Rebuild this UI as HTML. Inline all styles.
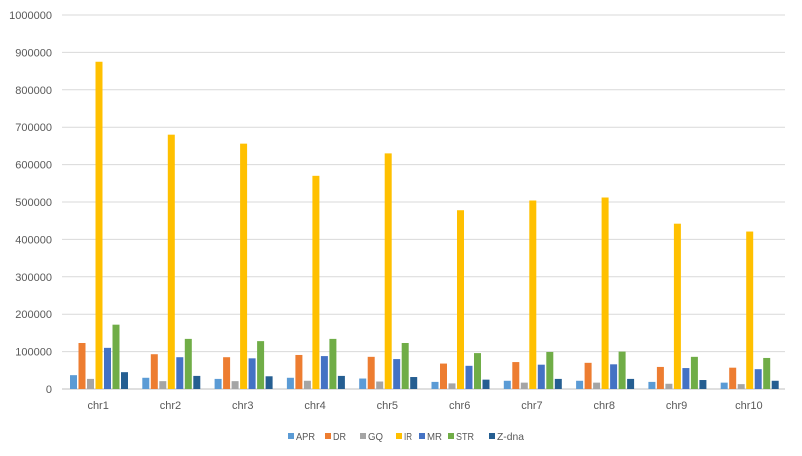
<!DOCTYPE html>
<html><head><meta charset="utf-8"><style>body{margin:0;background:#fff}svg{display:block}text{font-family:"Liberation Sans",sans-serif;fill:#595959}</style></head>
<body><svg id="s" width="802" height="456" xmlns="http://www.w3.org/2000/svg"></svg>
<script>
const s=document.getElementById('s');let h='';
const y0=389,k=37.4/100000,L=62,R=785;
for(let i=0;i<=10;i++){const y=y0-i*100000*k;h+=`<line x1="${L}" x2="${R}" y1="${y}" y2="${y}" stroke="${i?'#d9d9d9':'#bfbfbf'}" stroke-width="1"/>`;h+=`<text x="52" y="${y+4}" font-size="11" text-anchor="end">${i*100000}</text>`;}
const col=['#5B9BD5','#ED7D31','#A5A5A5','#FFC000','#4472C4','#70AD47','#255E91'];
const d=[[37,123,27,875,110,172,45],[30,93,21,680,85,134,35],[27,85,21,656,82,128,34],[30,91,22,570,88,134,35],[28,86,20,630,80,123,32],[19,68,15,478,62,96,25],[22,72,17,504,65,99,27],[22,70,17,512,66,100,27],[19,59,14,442,56,86,24],[17,57,13,421,53,83,22]];
const cw=(R-L)/10;
d.forEach((r,c)=>{const x0=L+c*cw+8;r.forEach((v,j)=>{const hh=v*1000*k;h+=`<rect x="${x0+j*8.5}" y="${y0-hh}" width="7" height="${hh}" fill="${col[j]}"/>`});h+=`<text x="${L+c*cw+cw/2}" y="409" font-size="11" text-anchor="middle">chr${c+1}</text>`;});
const lg=[['APR',288],['DR',325],['GQ',360],['IR',396],['MR',419],['STR',448],['Z-dna',489]];
lg.forEach((l,j)=>{h+=`<rect x="${l[1]}" y="433" width="6" height="6" fill="${col[j]}"/><text x="${l[1]+8}" y="440" font-size="10.5" textLength="${[19,13,15,8,15,18,27][j]}" lengthAdjust="spacingAndGlyphs">${l[0]}</text>`});
s.innerHTML=h;
</script></body></html>
